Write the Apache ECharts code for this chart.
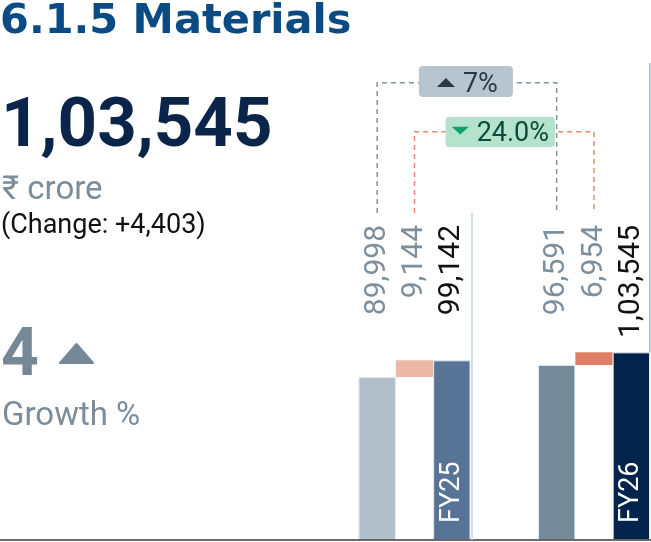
<!DOCTYPE html>
<html>
<head>
<meta charset="utf-8">
<script src="https://cdn.jsdelivr.net/npm/echarts@6/dist/echarts.min.js"></script>
<style>
html,body{margin:0;padding:0;background:#fff;}
#chart{width:651px;height:542px;}
</style>
</head>
<body>
<div id="chart"></div>
<script>
// ---- data ----
const years = ['FY25', 'FY26'];
const baseValues = [89998, 96591];   // first bar of each year group
const changeValues = [9144, 6954];   // increment bar
const totalValues = [99142, 103545]; // year total
const titleText = '6.1.5 Materials';
const headlineValue = '1,03,545';
const unitText = '₹ crore';
const changeText = '(Change: +4,403)';
const growthValue = '4';
const growthLabel = 'Growth %';
const basePctText = '7%';     // 89,998 -> 96,591
const changePctText = '24.0%'; // 9,144 -> 6,954 (down)

function fmtIN(n) {
  const s = String(Math.round(n));
  if (s.length <= 3) return s;
  const last3 = s.slice(-3);
  let rest = s.slice(0, -3);
  const parts = [];
  while (rest.length > 2) { parts.unshift(rest.slice(-2)); rest = rest.slice(0, -2); }
  if (rest) parts.unshift(rest);
  return parts.join(',') + ',' + last3;
}

// ---- styles ----
const FONT = 'Roboto, "DejaVu Sans", sans-serif';
const barColors = [
  ['#b1bfc9', '#ebb9a5', '#577496'],
  ['#748a98', '#e07f68', '#02234b']
];
const labelColors = ['#7d8f9c', '#7d8f9c', '#111111'];
const GRID_LEFTS = [358.5, 538];
const GRID_W = 112;
const LABEL_END_Y = 225;
const BASE_Y = 540;

const chart = echarts.init(document.getElementById('chart'), null, {renderer: 'canvas'});

const grids = [], xAxes = [], yAxes = [], series = [];
years.forEach((yr, g) => {
  grids.push({left: GRID_LEFTS[g], width: GRID_W, top: 0, bottom: 542 - BASE_Y});
  xAxes.push({
    type: 'category', gridIndex: g, data: ['a', 'b', 'c'], boundaryGap: true,
    axisLine: {show: false}, axisTick: {show: false}, axisLabel: {show: false}, splitLine: {show: false}
  });
  const vals = [baseValues[g], changeValues[g], totalValues[g]];
  xAxes.push({
    type: 'category', gridIndex: g, position: 'bottom', offset: -(BASE_Y - LABEL_END_Y),
    data: vals.map((v, i) => ({value: fmtIN(v), textStyle: {color: labelColors[i]}})),
    axisLine: {show: false}, axisTick: {show: false}, splitLine: {show: false},
    axisLabel: {show: true, rotate: 90, interval: 0, margin: 0, fontSize: 30, fontFamily: FONT}
  });
  yAxes.push({type: 'value', gridIndex: g, min: 0, max: 298000, show: false, splitLine: {show: false}});
  series.push({
    type: 'bar', xAxisIndex: g * 2, yAxisIndex: g, stack: 's' + g, silent: true,
    barWidth: '100%', barCategoryGap: '0%',
    itemStyle: {color: 'rgba(0,0,0,0)'},
    data: ['-', baseValues[g], '-']
  });
  series.push({
    type: 'bar', xAxisIndex: g * 2, yAxisIndex: g, stack: 's' + g, silent: true,
    barWidth: '100%', barCategoryGap: '0%',
    data: [baseValues[g], changeValues[g], totalValues[g]].map((v, i) => ({
      value: v,
      itemStyle: {color: barColors[g][i], borderColor: i === 1 ? barColors[g][i] : '#e2e8ee', borderWidth: i === 1 ? 0 : 1},
      label: i === 2 ? {
        show: true, position: 'insideBottom', rotate: 90, align: 'left', verticalAlign: 'middle',
        distance: 17, formatter: yr, color: '#ffffff', fontSize: 27, fontFamily: FONT
      } : {show: false}
    }))
  });
});

chart.setOption({
  animation: false,
  grid: grids, xAxis: xAxes, yAxis: yAxes, series: series
});

function px(g, cat, val) {
  return chart.convertToPixel({xAxisIndex: g * 2, yAxisIndex: g}, [cat, val]);
}
function txt(text, x, y, font, color, align) {
  return {type: 'text', silent: true, z: 10, style: {
    text: text, x: x, y: y, font: font, fill: color,
    align: align || 'left', textAlign: align || 'left', verticalAlign: 'middle', textVerticalAlign: 'middle'
  }};
}
function dashed(points, color) {
  return {type: 'polyline', silent: true, z: 5, shape: {points: points},
    style: {stroke: color, lineWidth: 1.5, lineDash: [5, 4], fill: null}};
}

const xA = px(0, 0, 0)[0], xB = px(1, 0, 0)[0];
const xC = px(0, 1, 0)[0], xD = px(1, 1, 0)[0];
const baseY = px(0, 0, 0)[1];
const topFY26 = px(1, 2, totalValues[1])[1];
const greyMid = (xA + xB) / 2 - 1;
const greenMid = (xC + xD) / 2 - 4;

const graphics = [
  txt(titleText, 0, 22, 'bold 41.5px "DejaVu Sans", sans-serif', '#0a4b84'),
  txt(headlineValue, 1, 129, 'bold 69px ' + FONT, '#0b2449'),
  txt(unitText, 2, 191, '33px ' + FONT, '#7b8d9a'),
  txt(changeText, 1, 226, '27px ' + FONT, '#111111'),
  txt(growthValue, 1, 358, 'bold 66px ' + FONT, '#748896'),
  {type: 'polygon', silent: true, z: 10, shape: {points: [[60, 363], [93, 363], [76.5, 344]], smooth: 0},
    style: {fill: '#748896', stroke: '#748896', lineWidth: 2, lineJoin: 'round'}},
  txt(growthLabel, 2, 417, '33px ' + FONT, '#7b8d9a'),
  // baseline
  {type: 'line', silent: true, z: 20, shape: {x1: 0, y1: baseY, x2: 651, y2: baseY},
    style: {stroke: '#3a3a3a', lineWidth: 1.5}},
  // separators
  {type: 'line', silent: true, z: 20, shape: {x1: 472, y1: 213, x2: 472, y2: baseY},
    style: {stroke: '#c9d5df', lineWidth: 1.5}},
  {type: 'line', silent: true, z: 20, shape: {x1: 649.8, y1: 63, x2: 649.8, y2: topFY26},
    style: {stroke: '#a9b6c0', lineWidth: 1.5}},
  // brackets
  dashed([[xA, 213], [xA, 82.7], [xB, 82.7], [xB, 213]], '#83939e'),
  dashed([[xC, 213], [xC, 131.7], [xD, 131.7], [xD, 213]], '#e98a70'),
  // grey badge
  {type: 'rect', silent: true, z: 8, shape: {x: greyMid - 47, y: 66, width: 94, height: 31, r: 4},
    style: {fill: '#b8c5ce'}},
  {type: 'polygon', silent: true, z: 10, shape: {points: [[greyMid - 29, 87], [greyMid - 11, 87], [greyMid - 20, 78]]},
    style: {fill: '#2b3942'}},
  txt(basePctText, greyMid - 3, 85, '27px ' + FONT, '#2b3942'),
  // green badge
  {type: 'rect', silent: true, z: 8, shape: {x: greenMid - 54.7, y: 116.7, width: 109.4, height: 30.6, r: 4},
    style: {fill: '#b4e2cd'}},
  {type: 'polygon', silent: true, z: 10, shape: {points: [[greenMid - 48.6, 126.7], [greenMid - 31.3, 126.7], [greenMid - 40, 134.5]]},
    style: {fill: '#13a06f'}},
  txt(changePctText, greenMid - 23.6, 134, '27px ' + FONT, '#0b4b3b')
];
chart.setOption({graphic: {elements: graphics}});
</script>
</body>
</html>
